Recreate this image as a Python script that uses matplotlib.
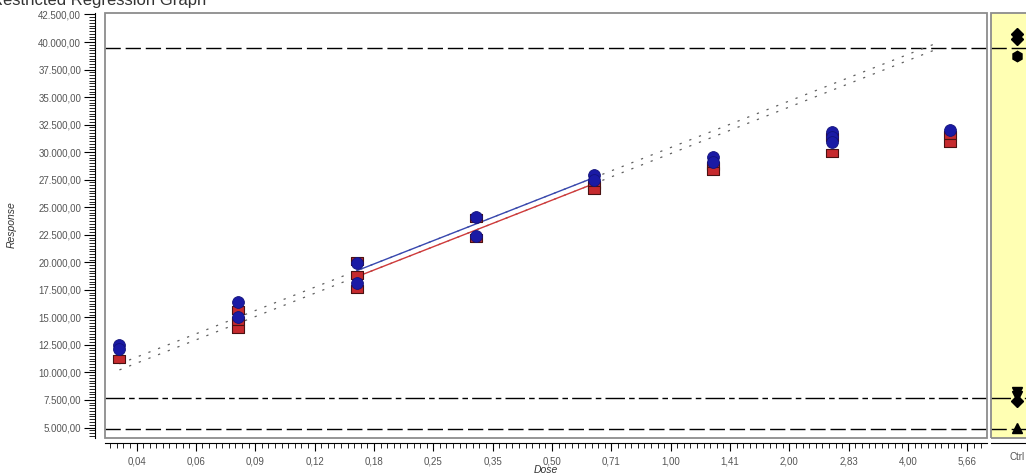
import numpy as np
import matplotlib
matplotlib.use('Agg')
import matplotlib.pyplot as plt
from matplotlib.patches import Rectangle
from matplotlib.ticker import FixedLocator, MultipleLocator, FuncFormatter, NullFormatter, FixedFormatter

plt.rcParams['font.family'] = ['Liberation Sans', 'DejaVu Sans']

# ---------------- data ----------------
title = "Restricted Regression Graph"
x_label = "Dose"
y_label = "Response"
ctrl_label = "Ctrl"

dose_blue = [0.04, 0.04, 0.08, 0.08, 0.16, 0.16, 0.32, 0.32, 0.64, 0.64,
             1.28, 1.28, 2.56, 2.56, 2.56, 5.12]
resp_blue = [12450, 12150, 16400, 15050, 19900, 18150, 24100, 22400, 27900, 27500,
             29600, 29100, 31850, 31350, 30950, 32050]

dose_red = [0.04, 0.08, 0.08, 0.08, 0.16, 0.16, 0.16, 0.32, 0.32, 0.64, 0.64,
            1.28, 1.28, 2.56, 2.56, 5.12, 5.12]
resp_red = [11250, 15650, 14650, 13900, 20100, 18850, 17600, 24000, 22200, 27000, 26600,
            28700, 28250, 31400, 29950, 31550, 30800]

# regression fits: response at reference dose, slope per doubling of dose
fit_ref_dose = 0.64
fit_blue = (27700, 4230)
fit_red = (27150, 4230)
fit_solid_range = (0.16, 0.64)
fit_dotted_range = (0.04, 4.8)

ctrl_values = [40700, 40250, 38700, 8250, 7850, 7400, 5000]
ctrl_markers = ['D', 'D', 'h', 'v', 'v', 'D', '^']

ref_upper = 39500
ref_mid = 7700
ref_lower = 4900

x_tick_exponents = [-4.5 + 0.5 * k for k in range(15)]
x_tick_labels = ['0,04', '0,06', '0,09', '0,12', '0,18', '0,25', '0,35', '0,50',
                 '0,71', '1,00', '1,41', '2,00', '2,83', '4,00', '5,66']
y_tick_values = list(range(5000, 42501, 2500))

# ---------------- layout ----------------
W, H = 1026, 476
fig = plt.figure(figsize=(W / 100, H / 100), dpi=100)


def fr(x0, y0, x1, y1):
    return [x0 / W, 1 - y1 / H, (x1 - x0) / W, (y1 - y0) / H]


ax = fig.add_axes(fr(105, 13, 987, 438))
axc = fig.add_axes(fr(991, 13, 1043, 438))

ylim = (4047, 42636)
xlim = (2 ** -4.7654, 2 ** 2.6643)

grey_txt = '#555555'
box_col = '#8c8c8c'

# main axes
ax.set_xscale('log', base=2)
ax.set_xlim(*xlim)
ax.set_ylim(*ylim)
for s in ['top', 'right']:
    ax.spines[s].set_visible(False)
ax.spines['left'].set_position(('outward', 7.2))
ax.spines['bottom'].set_position(('outward', 3.6))
for s in ['left', 'bottom']:
    ax.spines[s].set_linewidth(0.8)
ax.add_patch(Rectangle((0, 0), 1, 1, transform=ax.transAxes, fill=False,
                       ec=box_col, lw=1.3, clip_on=False, zorder=5))


def fmt_num(v, pos=None):
    s = f"{v:,.2f}"
    return s.replace(',', 'X').replace('.', ',').replace('X', '.')


ax.yaxis.set_major_locator(FixedLocator(y_tick_values))
ax.yaxis.set_major_formatter(FuncFormatter(fmt_num))
ax.yaxis.set_minor_locator(MultipleLocator(250))
ax.xaxis.set_major_locator(FixedLocator([2 ** e for e in x_tick_exponents]))
ax.xaxis.set_major_formatter(FixedFormatter(x_tick_labels))
minor_x = [2 ** (-5 + j / 18.0) for j in range(0, 18 * 8 + 1)]
ax.xaxis.set_minor_locator(FixedLocator(minor_x))
ax.xaxis.set_minor_formatter(NullFormatter())

ax.tick_params(axis='y', which='major', length=8, width=0.8, pad=2,
               labelsize=7, labelcolor=grey_txt)
ax.tick_params(axis='y', which='minor', length=4, width=0.6)
ax.tick_params(axis='x', which='major', length=6, width=0.8, pad=4,
               labelsize=7, labelcolor=grey_txt)
ax.tick_params(axis='x', which='minor', length=3.5, width=0.6)

# reference lines
dash_style = (0, (11, 3.5))
dashdot_style = (0, (14, 3, 4, 3))
for a in (ax, axc):
    a.axhline(ref_upper, color='k', lw=1.0, ls=dash_style, zorder=2)
    a.axhline(ref_mid, color='k', lw=1.0, ls=dashdot_style, zorder=2)
    a.axhline(ref_lower, color='k', lw=1.0, ls=dash_style, zorder=2)


def fit_curve(d, p):
    d = np.asarray(d, dtype=float)
    return p[0] + p[1] * np.log2(d / fit_ref_dose)


d_dot = np.geomspace(*fit_dotted_range, 200)
d_sol = np.geomspace(*fit_solid_range, 100)
for p in (fit_blue, fit_red):
    ax.plot(d_dot, fit_curve(d_dot, p), color='#606060', lw=0.9,
            ls=(0, (1.8, 6.5)), zorder=3)
ax.plot(d_sol, fit_curve(d_sol, fit_red), color='#d03a3a', lw=1.0, zorder=4)
ax.plot(d_sol, fit_curve(d_sol, fit_blue), color='#3848b0', lw=1.0, zorder=4)

rect_marker = [(-1, -0.72), (1, -0.72), (1, 0.72), (-1, 0.72), (-1, -0.72)]
ax.plot(dose_red, resp_red, ls='none', marker=rect_marker, ms=8.5,
        mfc='#c62a2e', mec='#4a1212', mew=0.8, zorder=6)
ax.plot(dose_blue, resp_blue, ls='none', marker='o', ms=8.5,
        mfc='#1a1aa5', mec='#12127a', mew=0.6, zorder=7)

# control panel
axc.set_facecolor('#ffffb3')
axc.set_xlim(0, 1)
axc.set_ylim(*ylim)
for s in ['top', 'right', 'left']:
    axc.spines[s].set_visible(False)
axc.spines['bottom'].set_position(('outward', 3.6))
axc.spines['bottom'].set_linewidth(0.8)
axc.set_xticks([])
axc.set_yticks([])
axc.add_patch(Rectangle((0, 0), 1, 1, transform=axc.transAxes, fill=False,
                        ec=box_col, lw=1.3, clip_on=False, zorder=5))
for v, m in zip(ctrl_values, ctrl_markers):
    axc.plot([0.5], [v], ls='none', marker=m, ms=6.5 if m != 'h' else 7.5,
             color='k', zorder=6)

# texts
fig.text(-9 / W, 1 - 5 / H, title, fontsize=12, color='#333333',
         ha='left', va='baseline')
fig.text(546 / W, 1 - 470 / H, x_label, fontsize=7.5, style='italic',
         color='#333333', ha='center', va='center')
fig.text(12 / W, 1 - 225 / H, y_label, fontsize=7.5, style='italic',
         color='#333333', ha='center', va='center', rotation=90)
fig.text(1017 / W, 1 - 457 / H, ctrl_label, fontsize=7, color=grey_txt,
         ha='center', va='center')

fig.savefig('out.png', dpi=100)
